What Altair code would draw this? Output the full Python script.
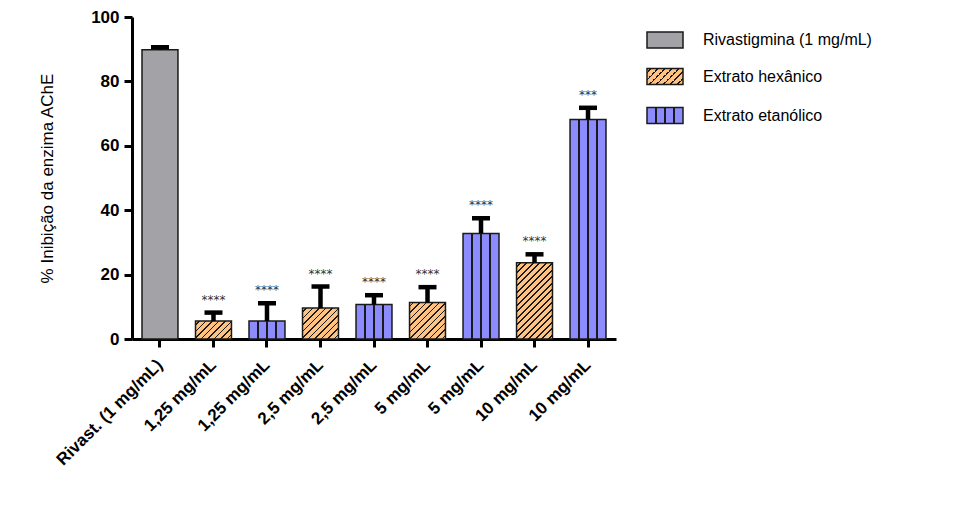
import altair as alt
import pandas as pd

# ---- data ----
idx = list(range(9))
tick_labels = ["Rivast. (1 mg/mL)", "1,25 mg/mL", "1,25 mg/mL", "2,5 mg/mL", "2,5 mg/mL",
               "5 mg/mL", "5 mg/mL", "10 mg/mL", "10 mg/mL"]
series_names = ["Rivastigmina (1 mg/mL)", "Extrato hexânico", "Extrato etanólico"]
series = ["riv", "hex", "eth", "hex", "eth", "hex", "eth", "hex", "eth"]
values = [89.8, 5.6, 5.6, 9.6, 10.7, 11.3, 32.8, 23.7, 68.2]
errors = [0.8, 2.6, 5.5, 6.7, 2.9, 4.8, 4.7, 2.6, 3.6]
signif = ["", "****", "****", "****", "****", "****", "****", "****", "***"]

df = pd.DataFrame({"idx": idx, "series": series, "value": values, "err": errors, "sig": signif})
df["upper"] = df["value"] + df["err"]

# ---- layout / style ----
W, H = 484, 322
PAD_IN, PAD_OUT = 0.328, 0.187
step = W / (9 - PAD_IN + 2 * PAD_OUT)
BW = step * (1 - PAD_IN)

GRAY = "#A3A3A7"
ORANGE = "#FFC280"
BLUE = "#8C8CFF"
DARK = "#1a1a1a"
FONT = "Liberation Sans"


def diag_gradient(w, h, period=6.5, lw=1.6):
    r = h / w
    k = (w + h) / (w * (1 + r * r))
    L = w + h
    stops = [{"offset": 0, "color": ORANGE}]
    s = period / 2
    while s + lw < L:
        a, b = s / L, (s + lw) / L
        stops += [{"offset": a, "color": ORANGE}, {"offset": a, "color": DARK},
                  {"offset": b, "color": DARK}, {"offset": b, "color": ORANGE}]
        s += period
    stops.append({"offset": 1, "color": ORANGE})
    return {"gradient": "linear", "x1": 0, "y1": 0, "x2": k, "y2": k * r, "stops": stops}


def vert_gradient(w, lw=1.6):
    hw = lw / 2 / w
    stops = [{"offset": 0, "color": BLUE}]
    for c in (0.25, 0.5, 0.75):
        stops += [{"offset": c - hw, "color": BLUE}, {"offset": c - hw, "color": DARK},
                  {"offset": c + hw, "color": DARK}, {"offset": c + hw, "color": BLUE}]
    stops.append({"offset": 1, "color": BLUE})
    return {"gradient": "linear", "x1": 0, "y1": 0, "x2": 1, "y2": 0, "stops": stops}


label_array = "[" + ",".join("'" + t + "'" for t in tick_labels) + "]"

x_enc = alt.X("idx:O", scale=alt.Scale(paddingInner=PAD_IN, paddingOuter=PAD_OUT),
              axis=alt.Axis(title=None, labelExpr=label_array + "[datum.value]",
                            labelAngle=-45, labelAlign="right", labelBaseline="middle",
                            labelPadding=15, labelFontSize=17, labelFontWeight="bold"))
y_enc = alt.Y("value:Q", scale=alt.Scale(domain=[0, 100], nice=False),
              axis=alt.Axis(title="% Inibição da enzima AChE", values=[0, 20, 40, 60, 80, 100],
                            grid=False, labelFontSize=17, labelFontWeight="bold",
                            titleFontSize=17, titleFontWeight="normal",
                            titleX=-76, titleBaseline="bottom"))

base = alt.Chart(df)

layers = []
# gray bar
layers.append(base.transform_filter("datum.series == 'riv'").mark_bar(
    fill=GRAY, stroke=DARK, strokeWidth=1.5).encode(x=x_enc, y=y_enc))
# hatched bars (one gradient per bar so the stripes stay at 45 degrees)
for i, (s, v) in enumerate(zip(series, values)):
    if s == "hex":
        layers.append(base.transform_filter(f"datum.idx == {i}").mark_bar(
            fill=diag_gradient(BW, v * H / 100), stroke=DARK, strokeWidth=1.5
        ).encode(x=x_enc, y="value:Q"))
# vertical-striped bars
layers.append(base.transform_filter("datum.series == 'eth'").mark_bar(
    fill=vert_gradient(BW), stroke=DARK, strokeWidth=1.5).encode(x=x_enc, y="value:Q"))
# error bars
layers.append(base.mark_rule(color="black", strokeWidth=4.5).encode(
    x=x_enc, y="value:Q", y2="upper:Q"))
layers.append(base.mark_tick(color="black", thickness=4.5, size=18, opacity=1).encode(
    x=x_enc, y="upper:Q"))
# significance stars
layers.append(base.mark_text(font="DejaVu Sans", fontSize=12, fill="#333333",
                             baseline="alphabetic", dy=-9).encode(
    x=x_enc, y="upper:Q", text="sig:N"))

# legend (drawn manually so that the swatches carry the hatching)
sw_x0, sw_x1, txt_x = 515, 551, 571
rows = [23, 59.5, 98.5]
sw_h = 16
fills = [GRAY, diag_gradient(36, sw_h, period=7), vert_gradient(36)]
for name, yc, f in zip(series_names, rows, fills):
    d = alt.Data(values=[{"s": name}])
    layers.append(alt.Chart(d).mark_rect(fill=f, stroke=DARK, strokeWidth=1.5).encode(
        x=alt.value(sw_x0), x2=alt.value(sw_x1), y=alt.value(yc - sw_h / 2), y2=alt.value(yc + sw_h / 2)))
    layers.append(alt.Chart(d).mark_text(font=FONT, fontSize=16, align="left", baseline="middle",
                                         fill="black").encode(
        x=alt.value(txt_x), y=alt.value(yc), text="s:N"))

chart = alt.layer(*layers).properties(
    width=W, height=H,
    autosize=alt.AutoSizeParams(type="none"),
    padding={"left": 124, "top": 9, "right": 353, "bottom": 159},
).configure_view(stroke=None).configure_axis(
    domainColor="black", domainWidth=3, tickColor="black", tickWidth=3, tickSize=8,
    labelColor="black", titleColor="black", labelFont=FONT, titleFont=FONT,
).configure_axisY(labelPadding=5)

chart.save("out.html", embed_options={"renderer": "svg", "actions": False})
